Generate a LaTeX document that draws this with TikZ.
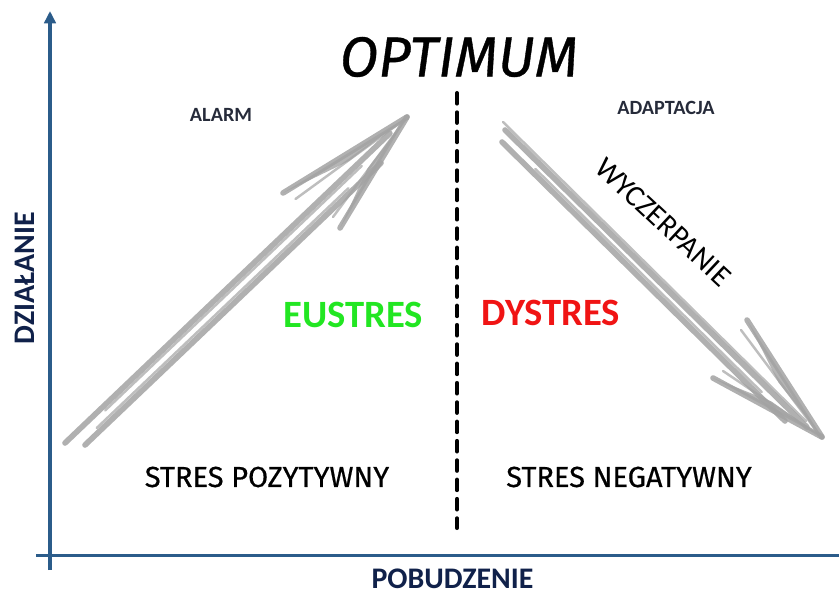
\documentclass[tikz,border=0pt]{standalone}
\usepackage{fontspec}
\setmainfont{Carlito}
\newfontfamily\handfont[FakeBold=0.6]{Fira Sans}
\usepackage{xcolor}
\usepackage{tikz}
\usetikzlibrary{arrows.meta,positioning,calc}
\definecolor{axisblue}{HTML}{2B5C8A}
\definecolor{inkblue}{HTML}{10214A}
\definecolor{slate}{HTML}{262B3A}
\definecolor{eugreen}{HTML}{22E622}
\definecolor{dyred}{HTML}{F01414}
\definecolor{pencil}{HTML}{A2A2A2}

\begin{document}
\begin{tikzpicture}[
  axis/.style={draw=axisblue, line width=2.2pt},
  axlbl/.style={font=\fontsize{17}{20}\selectfont\bfseries, text=inkblue},
  phase/.style={font=\fontsize{11.5}{13}\selectfont\bfseries, text=slate},
  kind/.style={font=\fontsize{22}{26}\selectfont\bfseries},
  hand/.style={font=\handfont\fontsize{16.5}{19}\selectfont},
  sketch/.style={draw=pencil, line width=3.2pt, line cap=round, opacity=0.85},
  thin sketch/.style={draw=pencil, line width=1.4pt, line cap=round, opacity=0.7},
  barb/.style={fill=pencil, opacity=0.8},
  divider/.style={draw=black, line width=2.3pt, dash pattern=on 6pt off 5pt, line cap=round}]
\useasboundingbox (0,0) rectangle (16.78,11.88);
% axes
\coordinate (Ytop) at (1.0,11.66);
\coordinate (Ybot) at (1.0,0.48);
\coordinate (Xleft) at (0.72,0.77);
\coordinate (Xright) at (16.78,0.77);
\draw[axis, -{Triangle[length=7pt,width=6.5pt]}] (Ybot) -- (Ytop);
\draw[axis] (Xleft) -- (Xright);
\node[axlbl, rotate=90] (ylab) at (0.5,6.32) {DZIAŁANIE};
\node[axlbl] (xlab) at (9.05,0.30) {POBUDZENIE};
% labels
\node[font=\handfont\itshape\fontsize{32}{36}\selectfont] (opt) at (9.18,10.74) {OPTIMUM};
\node[phase] (alarm) at (4.42,9.58) {ALARM};
\node[phase] (adapt) at (13.32,9.72) {ADAPTACJA};
\node[kind, text=eugreen] (eu) at (7.06,5.58) {EUSTRES};
\node[kind, text=dyred] (dy) at (11.02,5.62) {DYSTRES};
\node[hand] (poz) at (5.34,2.34) {STRES POZYTYWNY};
\node[hand] (neg) at (12.58,2.34) {STRES NEGATYWNY};
\node[font=\fontsize{17}{20}\selectfont, rotate=-43] (wycz) at (13.26,7.44) {WYCZERPANIE};
% divider
\coordinate (Dtop) at (9.14,10.02);
\coordinate (Dbot) at (9.14,1.32);
\draw[divider] (Dtop) -- (Dbot);
% rising arrow
\coordinate (L1) at (1.30,3.02);
\coordinate (L2) at (1.70,2.98);
\coordinate (L2end) at (7.62,8.62);
\coordinate (Ltip) at (8.14,9.54);
\coordinate (Lb1) at (5.66,8.02);
\coordinate (Lb2) at (6.80,7.32);
\draw[sketch] (L1) -- ($(Ltip)!0.05!(L1)$);
\draw[sketch] (L2) -- (L2end);
\draw[thin sketch] ($(L1)!0.1!(Ltip)+(0.12,0)$) -- ($(L1)!0.85!(Ltip)+(0.12,0)$);
\draw[thin sketch] ($(L2)!0.05!(L2end)+(-0.06,0.06)$) -- ($(L2)!0.9!(L2end)+(-0.06,0.06)$);
\fill[barb] (Lb1) -- (Ltip) -- ($(Lb1)!0.5!(Ltip)+(0.08,-0.12)$) -- cycle;
\fill[barb] (Lb2) -- (Ltip) -- ($(Lb2)!0.5!(Ltip)+(-0.12,0.08)$) -- cycle;
\draw[sketch] (Lb1) -- (Ltip);
\draw[thin sketch] ($(Lb1)+(0.25,-0.12)$) -- ($(Ltip)+(-0.05,-0.05)$);
\draw[sketch] (Lb2) -- (Ltip);
\draw[thin sketch] ($(Lb2)+(-0.14,0.22)$) -- ($(Ltip)+(-0.04,-0.06)$);
% falling arrow
\coordinate (R1) at (10.06,9.44);
\coordinate (R2) at (10.04,9.04);
\coordinate (R2end) at (15.70,3.46);
\coordinate (Rtip) at (16.44,3.14);
\coordinate (Rb1) at (14.94,5.48);
\coordinate (Rb2) at (14.26,4.32);
\draw[thin sketch] (R1) -- ($(Rtip)!0.05!(R1)$);
\draw[sketch] ($(R1)+(0.04,-0.16)$) -- ($(Rtip)!0.05!(R1)+(0.02,-0.12)$);
\draw[sketch] (R2) -- (R2end);
\draw[thin sketch] ($(R2)!0.1!(R2end)+(0.1,0.02)$) -- ($(R2)!0.9!(R2end)+(0.1,0.02)$);
\fill[barb] (Rb1) -- (Rtip) -- ($(Rb1)!0.5!(Rtip)+(-0.12,-0.08)$) -- cycle;
\fill[barb] (Rb2) -- (Rtip) -- ($(Rb2)!0.5!(Rtip)+(0.08,0.12)$) -- cycle;
\draw[sketch] (Rb1) -- (Rtip);
\draw[thin sketch] ($(Rb1)+(-0.12,-0.2)$) -- ($(Rtip)+(-0.05,0.04)$);
\draw[sketch] (Rb2) -- (Rtip);
\draw[thin sketch] ($(Rb2)+(0.2,0.14)$) -- ($(Rtip)+(-0.06,0.03)$);
\end{tikzpicture}
\end{document}
